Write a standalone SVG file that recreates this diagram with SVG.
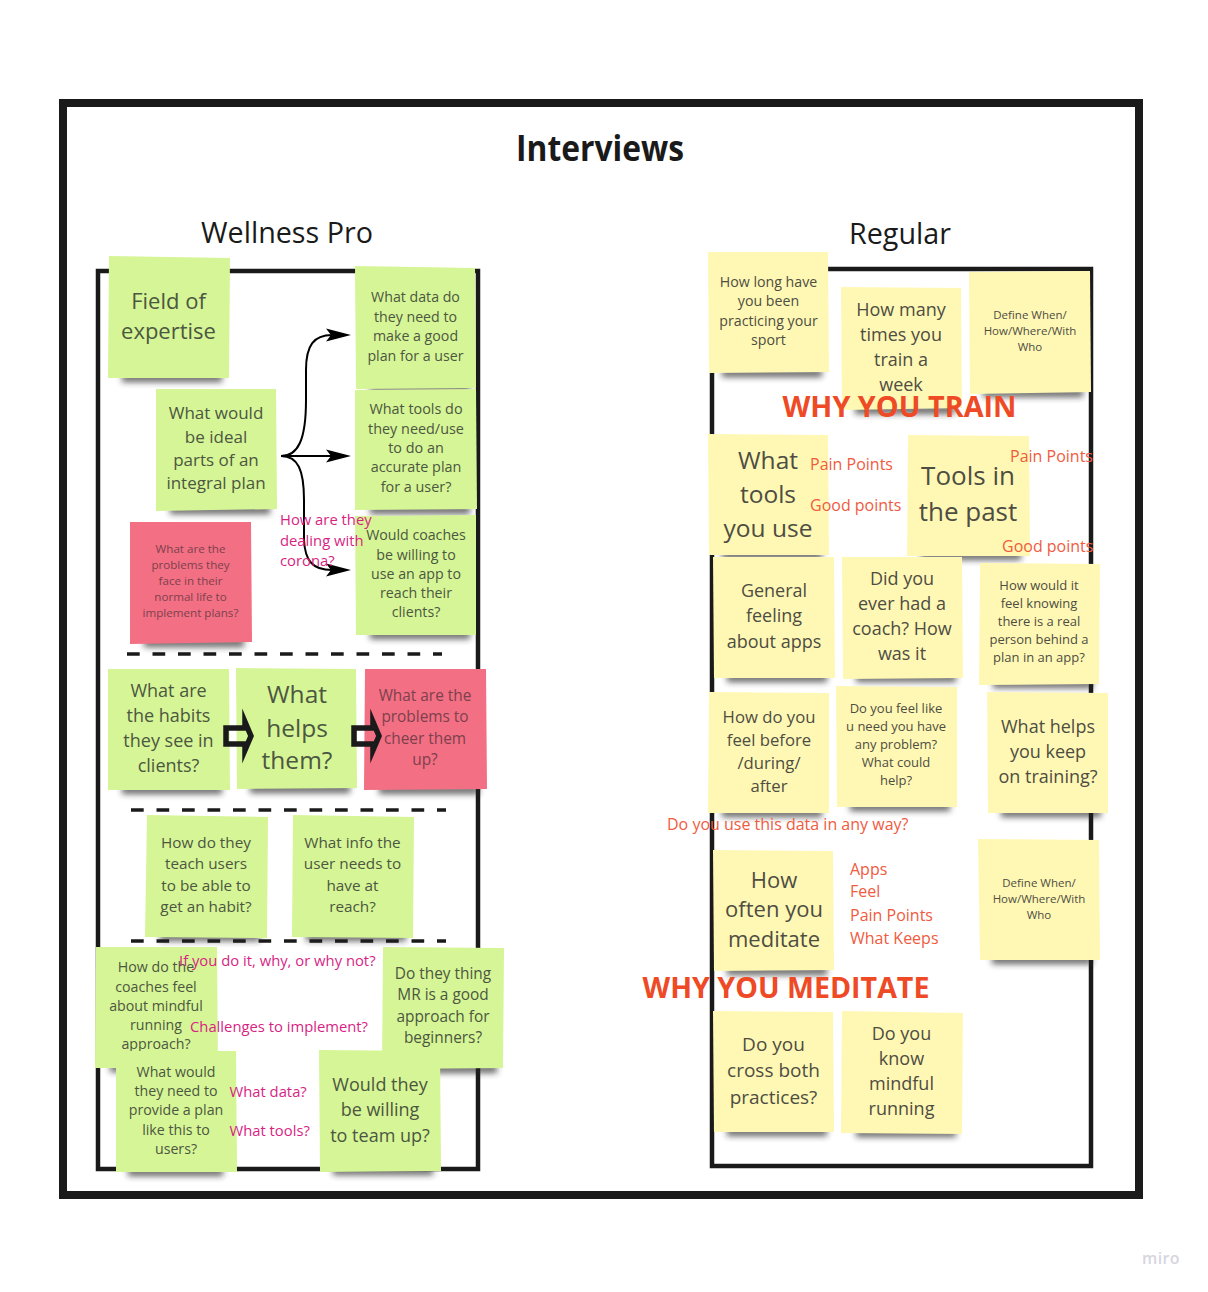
<svg xmlns="http://www.w3.org/2000/svg" width="1208" height="1292" viewBox="0 0 1208 1292">
<defs>
<filter id="blur" x="-30%" y="-200%" width="160%" height="500%"><feGaussianBlur stdDeviation="3.2"/></filter>
<marker id="head" markerUnits="userSpaceOnUse" markerWidth="26" markerHeight="16" refX="6" refY="7" orient="auto"><path d="M0,0.500 L25,7 L0,13.500 L5,7 Z" fill="#000"/></marker>
</defs>
<style>
text{font-family:"Open Sans","Noto Sans",sans-serif}
.frame{fill:none;stroke:#1a1a1a}
.dash{stroke:#1a1a1a;stroke-width:3.4;stroke-dasharray:12.7 12.8;fill:none}
.sh{fill:#222;opacity:.7;filter:url(#blur)}
.g{fill:#d6f596}.y{fill:#fff8b5}.r{fill:#f36f83}
.n text{text-anchor:middle}
.g2 text{fill:#4c5741}.y2 text{fill:#4e4d42}.r2 text{fill:#7c414d}
.o{fill:#ef5b3f;font-size:16px}
.m{fill:#d81f84;font-size:14.800px}
.big{fill:#ee4a26;font-weight:700;text-anchor:middle}
.conn{fill:none;stroke:#000;stroke-width:2}
.block{fill:none;stroke:#1a1a1a;stroke-width:5.500;stroke-linejoin:miter;stroke-miterlimit:10}
</style>
<rect class="frame" x="63" y="103" width="1076" height="1092" stroke-width="8"/>
<rect class="frame" x="98" y="271" width="380" height="898" stroke-width="4.500"/>
<rect class="frame" x="712" y="269" width="379" height="897" stroke-width="4.500"/>
<text x="600" y="161" font-size="35" font-weight="700" fill="#1a1a1a" text-anchor="middle" textLength="168" lengthAdjust="spacingAndGlyphs">Interviews</text>
<text x="287" y="243" font-size="30" fill="#1a1a1a" text-anchor="middle" textLength="172" lengthAdjust="spacingAndGlyphs">Wellness Pro</text>
<text x="900" y="244" font-size="30" fill="#1a1a1a" text-anchor="middle" textLength="102" lengthAdjust="spacingAndGlyphs">Regular</text>
<path class="dash" d="M127,654H442"/>
<path class="dash" d="M131,810H446"/>
<path class="dash" d="M131,941H446"/>

<g id="n-field" class="n g2"><rect class="sh" x="122" y="374" width="100" height="8"/><polygon class="g" points="109,256 230,258 229,378 108,378"/><text font-size="22"><tspan x="168.500" y="309">Field of</tspan><tspan x="168.500" y="339">expertise</tspan></text></g>
<g id="n-ideal" class="n g2"><rect class="sh" x="170" y="506" width="100" height="8"/><polygon class="g" points="156,389 276,389 277,509 156,511"/><text font-size="17"><tspan x="216" y="419">What would</tspan><tspan x="216" y="442.500">be ideal</tspan><tspan x="216" y="466">parts of an</tspan><tspan x="216" y="489">integral plan</tspan></text></g>
<g id="n-data" class="n g2"><rect class="sh" x="370" y="384" width="100" height="8"/><polygon class="g" points="355,266 475,268 476,388 356,389"/><text font-size="14.200"><tspan x="415.500" y="302">What data do</tspan><tspan x="415.500" y="322">they need to</tspan><tspan x="415.500" y="341">make a good</tspan><tspan x="415.500" y="361">plan for a user</tspan></text></g>
<g id="n-tools" class="n g2"><rect class="sh" x="370" y="506" width="100" height="8"/><polygon class="g" points="355,390 476,389 477,509 355,510"/><text font-size="14.400"><tspan x="416" y="414">What tools do</tspan><tspan x="416" y="434">they need/use</tspan><tspan x="416" y="453">to do an</tspan><tspan x="416" y="472">accurate plan</tspan><tspan x="416" y="492">for a user?</tspan></text></g>
<g id="n-coaches" class="n g2"><rect class="sh" x="370" y="631" width="100" height="8"/><polygon class="g" points="355,516 476,515 476,635 356,635"/><text font-size="14.200"><tspan x="416" y="540">Would coaches</tspan><tspan x="416" y="560">be willing to</tspan><tspan x="416" y="579">use an app to</tspan><tspan x="416" y="598">reach their</tspan><tspan x="416" y="617">clients?</tspan></text></g>
<g id="n-problems" class="n r2"><rect class="sh" x="144" y="639" width="100" height="8"/><polygon class="r" points="130,522 251,522 252,642 130,644"/><text font-size="11.600"><tspan x="190.500" y="553">What are the</tspan><tspan x="190.500" y="569">problems they</tspan><tspan x="190.500" y="585">face in their</tspan><tspan x="190.500" y="601">normal life to</tspan><tspan x="190.500" y="617">implement plans?</tspan></text></g>
<g id="n-habits" class="n g2"><rect class="sh" x="122" y="786" width="100" height="8"/><polygon class="g" points="108,669 229,669 230,790 108,790"/><text font-size="18"><tspan x="168.500" y="697">What are</tspan><tspan x="168.500" y="722">the habits</tspan><tspan x="168.500" y="747">they see in</tspan><tspan x="168.500" y="772">clients?</tspan></text></g>
<g id="n-helps" class="n g2"><rect class="sh" x="250" y="785" width="100" height="8"/><polygon class="g" points="236,668 356,669 357,788 237,789"/><text font-size="24.500"><tspan x="297" y="703">What</tspan><tspan x="297" y="737">helps</tspan><tspan x="297" y="769">them?</tspan></text></g>
<g id="n-cheer" class="n r2"><rect class="sh" x="379" y="786" width="100" height="8"/><polygon class="r" points="365,669 486,669 487,789 364,790"/><text font-size="15.400"><tspan x="425" y="701">What are the</tspan><tspan x="425" y="722">problems to</tspan><tspan x="425" y="744">cheer them</tspan><tspan x="425" y="765">up?</tspan></text></g>
<g id="n-teach" class="n g2"><rect class="sh" x="160" y="933" width="100" height="8"/><polygon class="g" points="147,815 268,817 267,938 145,937"/><text font-size="15.300"><tspan x="206" y="848">How do they</tspan><tspan x="206" y="869">teach users</tspan><tspan x="206" y="891">to be able to</tspan><tspan x="206" y="912">get an habit?</tspan></text></g>
<g id="n-info" class="n g2"><rect class="sh" x="306" y="933" width="100" height="8"/><polygon class="g" points="293,815 414,817 413,938 292,937"/><text font-size="15.300"><tspan x="352.500" y="848">What info the</tspan><tspan x="352.500" y="869">user needs to</tspan><tspan x="352.500" y="891">have at</tspan><tspan x="352.500" y="912">reach?</tspan></text></g>
<g id="n-feel" class="n g2"><rect class="sh" x="110" y="1064" width="100" height="8"/><polygon class="g" points="96,947 217,947 218,1068 95,1068"/><text font-size="14.200"><tspan x="156" y="972">How do the</tspan><tspan x="156" y="992">coaches feel</tspan><tspan x="156" y="1011">about mindful</tspan><tspan x="156" y="1030">running</tspan><tspan x="156" y="1049">approach?</tspan></text></g>
<g id="n-thing" class="n g2"><rect class="sh" x="397" y="1065" width="100" height="8"/><polygon class="g" points="383,947 504,948 503,1068 382,1069"/><text font-size="15.400"><tspan x="443" y="979">Do they thing</tspan><tspan x="443" y="1000">MR is a good</tspan><tspan x="443" y="1022">approach for</tspan><tspan x="443" y="1043">beginners?</tspan></text></g>
<g id="n-provide" class="n g2"><rect class="sh" x="128" y="1168" width="95" height="8"/><polygon class="g" points="116,1051 236,1051 237,1172 116,1172"/><text font-size="14.200"><tspan x="176" y="1077">What would</tspan><tspan x="176" y="1096">they need to</tspan><tspan x="176" y="1115">provide a plan</tspan><tspan x="176" y="1135">like this to</tspan><tspan x="176" y="1154">users?</tspan></text></g>
<g id="n-team" class="n g2"><rect class="sh" x="333" y="1167" width="100" height="8"/><polygon class="g" points="319,1050 440,1051 441,1171 320,1172"/><text font-size="18"><tspan x="380" y="1091">Would they</tspan><tspan x="380" y="1116">be willing</tspan><tspan x="380" y="1142">to team up?</tspan></text></g>

<g id="n-long" class="n y2"><rect class="sh" x="722" y="369" width="100" height="8"/><polygon class="y" points="708,252 828,252 829,372 709,373"/><text font-size="14.200"><tspan x="768.500" y="287">How long have</tspan><tspan x="768.500" y="306">you been</tspan><tspan x="768.500" y="326">practicing your</tspan><tspan x="768.500" y="345">sport</tspan></text></g>
<g id="n-times" class="n y2"><rect class="sh" x="855" y="406" width="100" height="8"/><polygon class="y" points="841,287 961,288 962,408 842,410"/><text font-size="18"><tspan x="901" y="316">How many</tspan><tspan x="901" y="341">times you</tspan><tspan x="901" y="366">train a</tspan><tspan x="901" y="391">week</tspan></text></g>
<g id="n-define1" class="n y2"><rect class="sh" x="983" y="389" width="100" height="8"/><polygon class="y" points="969,272 1090,271 1091,392 970,394"/><text font-size="11.500"><tspan x="1030" y="319">Define When/</tspan><tspan x="1030" y="335">How/Where/With</tspan><tspan x="1030" y="351">Who</tspan></text></g>
<g id="n-what-tools" class="n y2"><rect class="sh" x="722" y="551" width="100" height="8"/><polygon class="y" points="708,434 828,435 829,555 709,555"/><text font-size="24.500"><tspan x="768" y="469">What</tspan><tspan x="768" y="503">tools</tspan><tspan x="768" y="537">you use</tspan></text></g>
<g id="n-past" class="n y2"><rect class="sh" x="921" y="552" width="100" height="8"/><polygon class="y" points="908,435 1029,436 1030,556 907,556"/><text font-size="26"><tspan x="968" y="485">Tools in</tspan><tspan x="968" y="521">the past</tspan></text></g>
<g id="n-general" class="n y2"><rect class="sh" x="727" y="674" width="100" height="8"/><polygon class="y" points="713,557 834,557 835,678 714,678"/><text font-size="18"><tspan x="774" y="597">General</tspan><tspan x="774" y="622">feeling</tspan><tspan x="774" y="648">about apps</tspan></text></g>
<g id="n-coach" class="n y2"><rect class="sh" x="856" y="674" width="100" height="8"/><polygon class="y" points="842,557 962,557 963,678 843,679"/><text font-size="18"><tspan x="902" y="585">Did you</tspan><tspan x="902" y="610">ever had a</tspan><tspan x="902" y="635">coach? How</tspan><tspan x="902" y="660">was it</tspan></text></g>
<g id="n-person" class="n y2"><rect class="sh" x="993" y="680" width="100" height="8"/><polygon class="y" points="980,563 1100,564 1099,684 979,685"/><text font-size="13"><tspan x="1039" y="590">How would it</tspan><tspan x="1039" y="608">feel knowing</tspan><tspan x="1039" y="626">there is a real</tspan><tspan x="1039" y="644">person behind a</tspan><tspan x="1039" y="662">plan in an app?</tspan></text></g>
<g id="n-before" class="n y2"><rect class="sh" x="722" y="809" width="100" height="8"/><polygon class="y" points="709,692 829,693 829,813 708,813"/><text font-size="16.700"><tspan x="769" y="723">How do you</tspan><tspan x="769" y="746">feel before</tspan><tspan x="769" y="769">/during/</tspan><tspan x="769" y="792">after</tspan></text></g>
<g id="n-need" class="n y2"><rect class="sh" x="850" y="803" width="100" height="8"/><polygon class="y" points="836,686 957,687 957,807 837,807"/><text font-size="13"><tspan x="896" y="713">Do you feel like</tspan><tspan x="896" y="731">u need you have</tspan><tspan x="896" y="749">any problem?</tspan><tspan x="896" y="767">What could</tspan><tspan x="896" y="785">help?</tspan></text></g>
<g id="n-keep" class="n y2"><rect class="sh" x="1001" y="809" width="100" height="8"/><polygon class="y" points="987,692 1108,693 1108,813 988,813"/><text font-size="18"><tspan x="1048" y="733">What helps</tspan><tspan x="1048" y="758">you keep</tspan><tspan x="1048" y="783">on training?</tspan></text></g>
<g id="n-often" class="n y2"><rect class="sh" x="727" y="967" width="100" height="8"/><polygon class="y" points="713,850 833,851 834,970 714,971"/><text font-size="22"><tspan x="774" y="888">How</tspan><tspan x="774" y="917">often you</tspan><tspan x="774" y="947">meditate</tspan></text></g>
<g id="n-define2" class="n y2"><rect class="sh" x="992" y="956" width="100" height="8"/><polygon class="y" points="978,839 1099,840 1100,960 980,960"/><text font-size="11.500"><tspan x="1039" y="887">Define When/</tspan><tspan x="1039" y="903">How/Where/With</tspan><tspan x="1039" y="919">Who</tspan></text></g>
<g id="n-cross" class="n y2"><rect class="sh" x="727" y="1128" width="100" height="8"/><polygon class="y" points="713,1011 833,1012 834,1132 714,1132"/><text font-size="19"><tspan x="773.500" y="1051">Do you</tspan><tspan x="773.500" y="1077">cross both</tspan><tspan x="773.500" y="1104">practices?</tspan></text></g>
<g id="n-know" class="n y2"><rect class="sh" x="856" y="1129" width="100" height="8"/><polygon class="y" points="842,1011 963,1013 962,1134 841,1133"/><text font-size="18"><tspan x="901.500" y="1040">Do you</tspan><tspan x="901.500" y="1065">know</tspan><tspan x="901.500" y="1090">mindful</tspan><tspan x="901.500" y="1115">running</tspan></text></g>

<g id="connectors">
<path class="conn" marker-end="url(#head)" d="M281,456 C298,456 306,440 306,400 L306,370 C306,345 314,335 332,335"/>
<path class="conn" marker-end="url(#head)" d="M281,456 H332"/>
<path class="conn" marker-end="url(#head)" d="M281,456 C298,456 304,470 304,500 L304,540 C305,560 312,570 332,570"/>
<polygon class="block" points="226,728 245,728 245,722 251,736 245,750 245,744 226,744"/>
<polygon class="block" points="354,728 373,728 373,722 379,736 373,750 373,744 354,744"/>
</g>

<g id="labels">
<text class="m"><tspan x="280" y="525">How are they</tspan><tspan x="280" y="546">dealing with</tspan><tspan x="280" y="566">corona?</tspan></text>
<text class="m" x="179" y="966">If you do it, why, or why not?</text>
<text class="m" x="190" y="1032">Challenges to implement?</text>
<text class="m" x="229.500" y="1097">What data?</text>
<text class="m" x="229.500" y="1136">What tools?</text>
<text class="big" x="899.500" y="417" font-size="28.800">WHY YOU TRAIN</text>
<text class="big" x="786" y="998" font-size="28.600">WHY YOU MEDITATE</text>
<text class="o" x="810" y="470">Pain Points</text>
<text class="o" x="810" y="511">Good points</text>
<text class="o" x="1010" y="462">Pain Points</text>
<text class="o" x="1002" y="552">Good points</text>
<text class="o" x="667" y="830">Do you use this data in any way?</text>
<text class="o" x="850" y="875">Apps</text>
<text class="o" x="850" y="897">Feel</text>
<text class="o" x="850" y="921">Pain Points</text>
<text class="o" x="850" y="944">What Keeps</text>
<text x="1142" y="1264" font-size="16" font-weight="600" fill="#d6d6de" letter-spacing=".4">miro</text>
</g>
</svg>
